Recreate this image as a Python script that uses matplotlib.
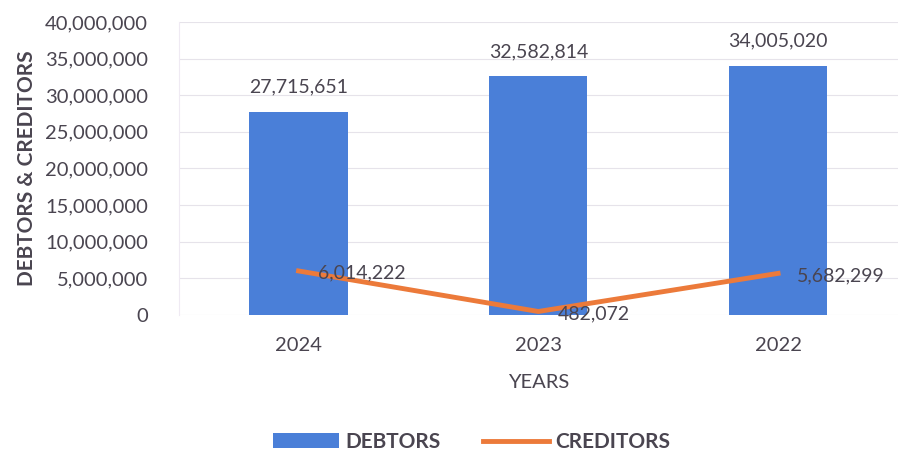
import numpy as np
import matplotlib.pyplot as plt
from matplotlib.ticker import FuncFormatter

years = ["2024", "2023", "2022"]
debtors = [27715651, 32582814, 34005020]
creditors = [6014222, 482072, 5682299]

plt.rcParams['font.family'] = ['Lato', 'DejaVu Sans']
text_col = "#4a4550"

fig = plt.figure(figsize=(9.07, 4.66), dpi=100)
ax = fig.add_axes([0.197, 0.324, 0.793, 0.629])

x = np.arange(len(years))
bars = ax.bar(x, debtors, width=0.41, color="#4a7fd8", label="DEBTORS", zorder=2)
line, = ax.plot(x, creditors, color="#ec7a3a", linewidth=3.5, label="CREDITORS", zorder=3)

for xi, v in zip(x, debtors):
    ax.text(xi, v + 2200000, f"{v:,}", ha="center", va="bottom", fontsize=14, color=text_col)
for xi, v in zip(x, creditors):
    ax.text(xi + 0.08, v - 300000, f"{v:,}", ha="left", va="center", fontsize=14, color=text_col)

ax.set_xlim(-0.5, 2.5)
ax.set_ylim(0, 40000000)
ax.set_yticks(np.arange(0, 40000001, 5000000))
ax.yaxis.set_major_formatter(FuncFormatter(lambda v, p: f"{int(v):,}"))
ax.set_xticks(x)
ax.set_xticklabels(years)
ax.tick_params(axis="both", length=0, labelsize=14.5, labelcolor=text_col)
ax.tick_params(axis="y", pad=22)
ax.tick_params(axis="x", pad=16)
ax.grid(axis="y", color="#e6e3ea", linewidth=0.8, zorder=0)
for s in ["top", "right", "bottom"]:
    ax.spines[s].set_visible(False)
ax.spines["left"].set_color("#efeaf3")

ax.set_xlabel("YEARS", fontsize=14.5, color=text_col, labelpad=14)
ax.set_ylabel("DEBTORS & CREDITORS", fontsize=15, fontweight="bold", color=text_col, labelpad=6)

fig.legend(handles=[bars, line], loc="lower center", bbox_to_anchor=(0.52, -0.01), ncol=2,
           frameon=False, labelcolor=text_col, handlelength=3.2, columnspacing=2.0,
           handletextpad=0.3, prop={"weight": "bold", "size": 15})

fig.savefig("out.png", dpi=100)
